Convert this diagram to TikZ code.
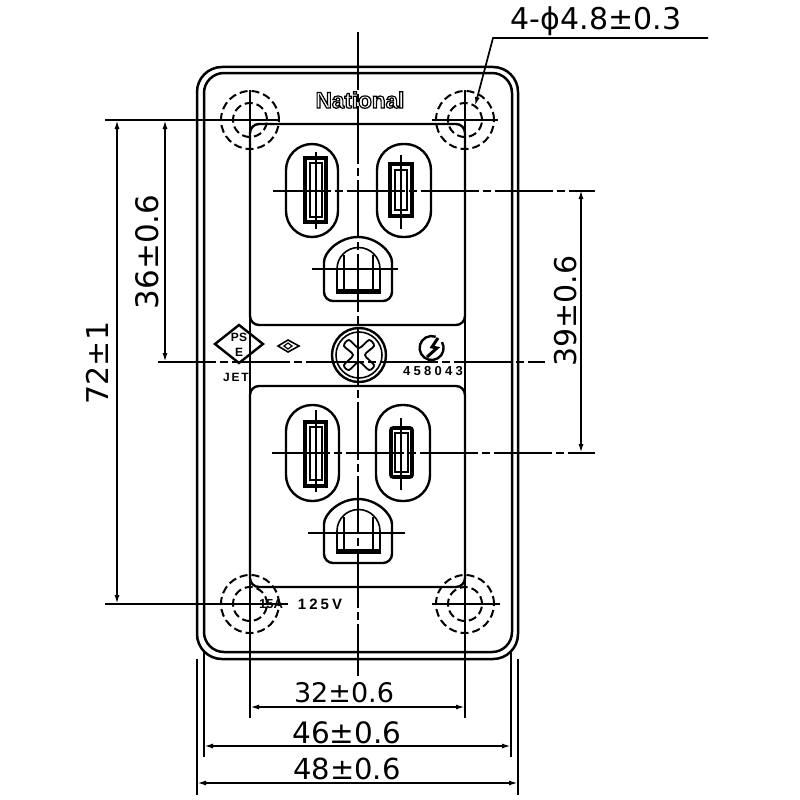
\documentclass[tikz,border=0pt]{standalone}
\usepackage{fontspec}
\setmainfont{DejaVu Sans}
\newfontfamily\markfont{Liberation Sans}
\usetikzlibrary{arrows.meta}

\tikzset{
    plate/.style={line width=2.5pt},
    edge/.style={line width=2.4pt},
    thin part/.style={line width=1.6pt},
    heavy part/.style={line width=3.6pt},
    hole/.style={line width=2pt, dash pattern=on 8pt off 4pt},
    center/.style={line width=1.8pt},
    center dash/.style={line width=1.8pt, dash pattern=on 58pt off 4pt on 8pt off 4pt},
    dimline/.style={line width=1.7pt, <->, >={Latex[length=9pt,width=5pt]}},
    dimtext/.style={inner sep=0pt, font=\fontsize{#1}{#1}\selectfont},
    marktext/.style={inner sep=0pt, font=\markfont\bfseries\fontsize{#1}{#1}\selectfont}
}

\begin{document}
\begin{tikzpicture}[x=1pt, y=-1pt]
    \useasboundingbox (0,0) rectangle (800,800);

    % Plate outline
    \draw[plate, rounded corners=25pt] (197,67) rectangle (518,659);
    \draw[plate, rounded corners=20pt] (204,73) rectangle (512,652);

    % Recesses
    \draw[edge, rounded corners=9pt] (250,124) rectangle (465,325);
    \draw[edge, rounded corners=9pt] (250,386) rectangle (465,587);

    % Mounting holes
    \foreach \name/\cx/\cy in {holeTL/250/120, holeTR/465/120, holeBL/250/604, holeBR/465/604} {
        \coordinate (\name) at (\cx,\cy);
        \draw[hole] (\name) circle (29pt);
        \draw[hole] (\name) circle (17pt);
    }
    \draw[center] (432,120) -- (498,120);
    \draw[center] (432,604) -- (500,604);

    % Upper left slot
    \draw[edge, rounded corners=26pt] (286,144) rectangle (338,237);
    \draw[heavy part] (305,158) rectangle (326,222);
    \draw[thin part] (310,163) rectangle (322,217);
    \draw[thin part] (316,152) -- (316,229);

    % Upper right slot
    \draw[edge, rounded corners=26pt] (377,144) rectangle (431,237);
    \draw[heavy part] (390,164) rectangle (412,216);
    \draw[thin part] (395,170) rectangle (407,210);
    \draw[thin part] (401,155) -- (401,229);

    % Upper earth slot
    \draw[edge, rounded corners=9pt] (324,271) arc[start angle=180, end angle=360, radius=34] -- (392,301) -- (324,301) -- cycle;
    \draw[thin part] (337,269) arc[start angle=180, end angle=360, radius=21.5] -- (380,293) -- (337,293) -- cycle;
    \draw[heavy part] (338,291) -- (379,291);
    \draw[thin part] (344,255) -- (344,291);
    \draw[thin part] (373,255) -- (373,291);
    \draw[center] (312,269) -- (398,269);

    % Lower left slot
    \draw[edge, rounded corners=26pt] (286,405) rectangle (339,501);
    \draw[heavy part] (305,422) rectangle (326,486);
    \draw[thin part] (310,427) rectangle (322,480);
    \draw[thin part] (316,410) -- (316,492);

    % Lower right slot
    \draw[edge, rounded corners=26pt] (376,405) rectangle (430,501);
    \draw[heavy part, rounded corners=2pt] (391,428) rectangle (412,477);
    \draw[thin part] (395,433) rectangle (408,472);
    \draw[thin part] (401,418) -- (401,490);

    % Lower earth slot
    \draw[edge, rounded corners=9pt] (324,533) arc[start angle=180, end angle=360, radius=34] -- (392,563) -- (324,563) -- cycle;
    \draw[thin part] (337,531) arc[start angle=180, end angle=360, radius=21.5] -- (380,553) -- (337,553) -- cycle;
    \draw[heavy part] (338,551) -- (379,551);
    \draw[thin part] (344,517) -- (344,551);
    \draw[thin part] (373,517) -- (373,551);
    \draw[center] (308,533) -- (405,533);

    % Screw
    \coordinate (screw) at (359,355);
    \draw[edge] (screw) circle (27pt);
    \draw[thin part] (screw) circle (23pt);
    \begin{scope}[shift={(359,355)}]
        \draw[line width=1.8pt] plot[smooth cycle] coordinates {(-15,-9) (-10,-15) (0,-7) (10,-15) (15,-9) (6,0) (15,10) (10,15) (0,7) (-10,15) (-15,10) (-6,0)};
    \end{scope}

    % Maker marks
    \node[marktext=22.5, text=white] (maker) at (360,100) {\special{pdf:code q 1 Tr 1.2 w 0 0 0 RG}National\special{pdf:code Q}};
    \draw[edge] (239,325) -- (263,344) -- (239,363) -- (215,344) -- cycle;
    \node[marktext=12] (markP) at (239,337) {PS};
    \node[marktext=12] (markE) at (239,352) {E};
    \node[marktext=12, font=\markfont\bfseries\fontsize{12}{12}\selectfont\addfontfeature{LetterSpace=15}] (markJ) at (236,377) {JET};
    \draw[thin part] (288,340) -- (299,346) -- (288,352) -- (278,346) -- cycle;
    \draw[line width=1.2pt] (288,343) -- (292,346) -- (288,349) -- (284,346) -- cycle;
    \draw[edge] (442,342) arc[start angle=-30, end angle=290, radius=12];
    \draw[line width=3pt] (438,338) -- (432,347) -- (437,348) -- (427,357);
    \node[marktext=12, font=\markfont\bfseries\fontsize{13}{13}\selectfont\addfontfeature{LetterSpace=25}] (lotNo) at (433,371) {458043};
    \node[marktext=14, font=\markfont\bfseries\fontsize{15}{15}\selectfont\addfontfeature{LetterSpace=20}] (ratingV) at (320,604) {125V};
    \node[marktext=13] (ratingA) at (271,604) {15A};

    % Center lines
    \coordinate (midT) at (358,32);
    \coordinate (midB) at (358,676);
    \coordinate (midL) at (158,362);
    \coordinate (midR) at (545,362);
    \draw[center dash] (midT) -- (midB);
    \draw[center dash] (midL) -- (midR);
    \draw[center dash] (273,191) -- (595,191);
    \draw[center dash] (272,453) -- (595,453);

    % Extension lines
    \draw[center] (105,120) -- (280,120);
    \draw[center] (105,604) -- (288,604);
    \draw[center] (250,90) -- (250,718);
    \draw[center] (465,90) -- (465,718);
    \draw[center] (204,652) -- (204,757);
    \draw[center] (511,652) -- (511,757);
    \draw[center] (197,659) -- (197,795);
    \draw[center] (518,659) -- (518,795);

    % Vertical dimensions
    \coordinate (dimA) at (117,120);
    \coordinate (dimB) at (117,604);
    \draw[dimline] (dimA) -- (dimB);
    \node[dimtext=30, rotate=90] (lenAll) at (97,363) {72±1};
    \coordinate (dimC) at (165,120);
    \coordinate (dimD) at (165,362);
    \draw[dimline] (dimC) -- (dimD);
    \node[dimtext=31, rotate=90] (lenTop) at (147,252) {36±0.6};
    \coordinate (dimE) at (581,190);
    \coordinate (dimF) at (581,453);
    \draw[dimline] (dimE) -- (dimF);
    \node[dimtext=30, rotate=90] (lenOut) at (566,311) {39±0.6};

    % Horizontal dimensions
    \coordinate (dimG) at (250,707);
    \coordinate (dimH) at (465,707);
    \draw[dimline] (dimG) -- (dimH);
    \node[dimtext=27] (widthIn) at (344,693) {32±0.6};
    \coordinate (dimI) at (204,746);
    \coordinate (dimJ) at (511,746);
    \draw[dimline] (dimI) -- (dimJ);
    \node[dimtext=29.5] (widthMid) at (347,733) {46±0.6};
    \coordinate (dimK) at (197,783);
    \coordinate (dimL) at (518,783);
    \draw[dimline] (dimK) -- (dimL);
    \node[dimtext=29] (widthAll) at (347,769) {48±0.6};

    % Hole callout
    \coordinate (leadA) at (708,38);
    \coordinate (leadB) at (493,38);
    \coordinate (leadC) at (475,106);
    \draw[line width=1.7pt, ->, >={Latex[length=9pt,width=5pt]}] (leadA) -- (leadB) -- (leadC);
    \node[dimtext=30] (holeNote) at (596,21) {4-ϕ4.8±0.3};
\end{tikzpicture}
\end{document}
